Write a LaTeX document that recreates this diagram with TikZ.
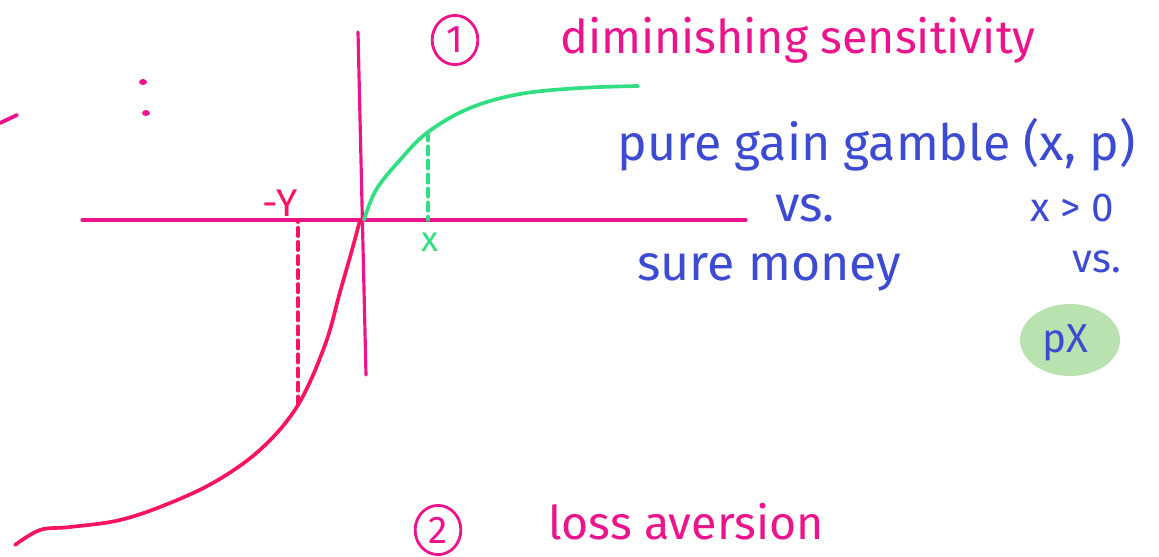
\documentclass[tikz,border=0pt]{standalone}
\usepackage{fontspec}
\setmainfont{Fira Sans}
\usetikzlibrary{shapes.geometric}
\definecolor{inkpink}{RGB}{236,20,140}
\definecolor{inkred}{RGB}{250,20,95}
\definecolor{inkgreen}{RGB}{50,222,130}
\definecolor{inkblue}{RGB}{60,75,210}
\definecolor{blobgreen}{RGB}{186,226,176}

\begin{document}
\begin{tikzpicture}[x=0.02cm, y=-0.02cm, line cap=round, line join=round,
  pinktxt/.style={text=inkpink, font=\fontsize{26.5}{30}\selectfont, inner sep=0pt},
  bluetxt/.style={text=inkblue, font=\fontsize{28.5}{32}\selectfont, inner sep=0pt},
  bluesmall/.style={text=inkblue, font=\fontsize{23}{26}\selectfont, inner sep=0pt},
  numcirc/.style={draw=inkpink, text=inkpink, ellipse, line width=1.6pt,
    font=\fontsize{22}{24}\selectfont, inner sep=1pt, minimum width=26pt, minimum height=28pt}]
  \useasboundingbox (0,0) rectangle (1159,556);
  % axes, origin near (362,220)
  \coordinate (O) at (362,220);
  \draw[inkpink, line width=1.8pt] (82,220) -- (746,220);
  \draw[inkpink, line width=1.8pt] (358,32) -- (366,375);
  % gains: concave
  \coordinate (G) at (428,132);
  \draw[inkgreen, line width=2.1pt] plot[smooth, tension=0.6] coordinates
    {(364,220) (376,190) (400,160) (428,132) (470,108) (520,94) (580,88) (638,86)};
  \draw[inkgreen, line width=1.8pt, dash pattern=on 5pt off 3pt] (G) -- (428,220);
  \node[text=inkgreen, font=\fontsize{20}{22}\selectfont] (xg) at (430,242) {x};
  % losses: convex
  \coordinate (L) at (298,405);
  \draw[inkred, line width=2.1pt] plot[smooth, tension=0.6] coordinates
    {(360,220) (352,250) (340,292) (325,345) (298,405) (262,448) (218,480) (170,503) (120,520) (70,527) (40,530) (15,545)};
  \draw[inkred, line width=1.8pt, dash pattern=on 5pt off 3pt] (L) -- (298,220);
  \node[text=inkred, font=\fontsize{22}{24}\selectfont] (yl) at (280,203) {-Y};
  % stray marks
  \draw[inkpink, line width=2.2pt] (0,123) -- (17,115);
  \fill[inkpink] (143,82) ellipse (4 and 3);
  \fill[inkpink] (146,113) ellipse (4 and 3);
  % headings
  \node[numcirc] (one) at (455,40) {1};
  \node[pinktxt, anchor=west] (dim) at (560,40) {diminishing sensitivity};
  \node[numcirc] (two) at (438,530) {2};
  \node[pinktxt, anchor=west] (loss) at (548,522) {loss aversion};
  % gamble vs sure money
  \node[bluetxt, anchor=west] (gain) at (617,145) {pure gain gamble (x, p)};
  \node[bluetxt] (vs1) at (805,208) {vs.};
  \node[bluetxt, anchor=west] (sure) at (637,272) {sure money};
  \node[bluesmall] (xpos) at (1072,208) {x > 0};
  \node[bluesmall] (vs2) at (1097,262) {vs.};
  \fill[blobgreen] (1070,340) ellipse (50 and 36);
  \node[bluesmall] (px) at (1065,343) {pX};
\end{tikzpicture}
\end{document}
